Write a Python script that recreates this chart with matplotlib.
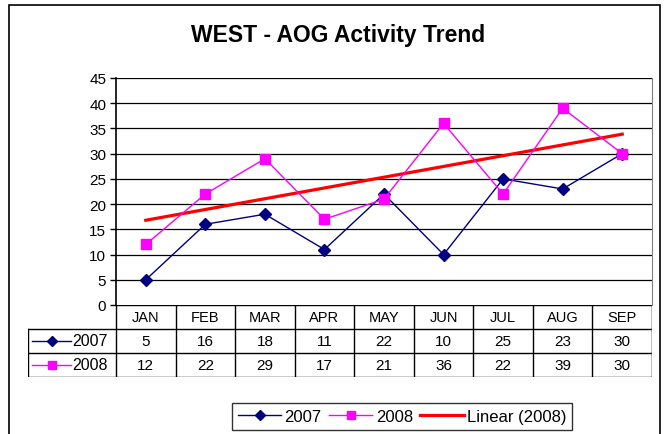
import numpy as np
import matplotlib
matplotlib.use("Agg")
import matplotlib.pyplot as plt
from matplotlib.lines import Line2D
from matplotlib.patches import Rectangle

plt.rcParams["font.family"] = ["Liberation Sans", "DejaVu Sans"]

months = ["JAN", "FEB", "MAR", "APR", "MAY", "JUN", "JUL", "AUG", "SEP"]
vals_2007 = [5, 16, 18, 11, 22, 10, 25, 23, 30]
vals_2008 = [12, 22, 29, 17, 21, 36, 22, 39, 30]
y_ticks = [0, 5, 10, 15, 20, 25, 30, 35, 40, 45]

NAVY = "#000080"
MAGENTA = "#FF00FF"
RED = "#FF0000"

W, H = 668, 435
fig = plt.figure(figsize=(W / 100, H / 100), dpi=100)


def fx(px):
    return px / W


def fy(py):
    return 1 - py / H


# chart border (bottom edge falls outside the picture)
fig.patches.append(Rectangle((fx(9), -0.2), fx(651), fy(6) + 0.2,
                             transform=fig.transFigure, fill=False,
                             edgecolor="black", linewidth=1.2))

fig.text(fx(338), fy(36), "WEST - AOG Activity Trend", ha="center", va="center",
         fontsize=16.5, fontweight="bold")

x = np.arange(1, len(months) + 1)

# main plot area
ax = fig.add_axes([fx(116), fy(306), fx(652 - 116), fy(79) - fy(306)])
ax.set_xlim(0.5, len(months) + 0.5)
ax.set_ylim(0, 45)
ax.set_yticks(y_ticks)
ax.set_xticks([])
ax.tick_params(axis="y", labelsize=11, length=4, width=1, direction="out", pad=3)
for yt in y_ticks[1:]:
    ax.axhline(yt, color="black", linewidth=0.9, zorder=1)
for side in ["top", "bottom"]:
    ax.spines[side].set_visible(False)
ax.spines["left"].set_linewidth(1.2)
ax.spines["right"].set_color("#808080")

ax.plot(x, vals_2007, color=NAVY, linewidth=1, marker="D", markersize=6, zorder=3)
ax.plot(x, vals_2008, color=MAGENTA, linewidth=1, marker="s", markersize=7, zorder=3)
slope, icpt = np.polyfit(x, vals_2008, 1)
ax.plot([x[0], x[-1]], [slope * x[0] + icpt, slope * x[-1] + icpt],
        color=RED, linewidth=2.3, zorder=2)

# data table under the plot
col_w = (652 - 116) / len(months)
label_cols = (116 - 28) / col_w
tx = fig.add_axes([fx(28), fy(378), fx(652 - 28), fy(306) - fy(378)])
tx.set_xlim(0.5 - label_cols, len(months) + 0.5)
tx.set_ylim(0, 3)
tx.axis("off")
lw = 1.0
# horizontal lines
tx.plot([0.5, len(months) + 0.5], [3, 3], color="black", lw=lw)
for yy in [0, 1, 2]:
    tx.plot([0.5 - label_cols, len(months) + 0.5], [yy, yy], color="black", lw=lw)
# vertical lines
tx.plot([0.5 - label_cols] * 2, [0, 2], color="black", lw=lw)
for i in range(len(months) + 1):
    tx.plot([0.5 + i] * 2, [0, 3], color="black", lw=lw)
tx.plot([len(months) + 0.5] * 2, [0, 3], color="#808080", lw=lw)

for i, m in enumerate(months):
    tx.text(x[i], 2.5, m, ha="center", va="center", fontsize=10.5)
    tx.text(x[i], 1.5, str(vals_2007[i]), ha="center", va="center", fontsize=11)
    tx.text(x[i], 0.5, str(vals_2008[i]), ha="center", va="center", fontsize=11)

key_x0 = 0.5 - label_cols + 0.07
key_x1 = key_x0 + 0.65
tx.plot([key_x0, key_x1], [1.5, 1.5], color=NAVY, lw=1)
tx.plot([(key_x0 + key_x1) / 2], [1.5], color=NAVY, marker="D", markersize=5)
tx.plot([key_x0, key_x1], [0.5, 0.5], color=MAGENTA, lw=1)
tx.plot([(key_x0 + key_x1) / 2], [0.5], color=MAGENTA, marker="s", markersize=6)
tx.text(key_x1 + 0.03, 1.5, "2007", ha="left", va="center", fontsize=11.5)
tx.text(key_x1 + 0.03, 0.5, "2008", ha="left", va="center", fontsize=11.5)

# legend (cut off by the bottom edge, as in the reference)
handles = [
    Line2D([], [], color=NAVY, lw=1, marker="D", markersize=5),
    Line2D([], [], color=MAGENTA, lw=1, marker="s", markersize=6),
    Line2D([], [], color=RED, lw=2.3),
]
leg = fig.legend(handles, ["2007", "2008", "Linear (2008)"], ncol=3,
                 loc="upper left", bbox_to_anchor=(fx(232), fy(404)),
                 fontsize=12, frameon=True, fancybox=False,
                 borderpad=0.35, handlelength=2.6, handletextpad=0.2,
                 columnspacing=0.45, borderaxespad=0)
leg.get_frame().set_edgecolor("black")
leg.get_frame().set_linewidth(1.0)

fig.savefig("out.png", dpi=100)
